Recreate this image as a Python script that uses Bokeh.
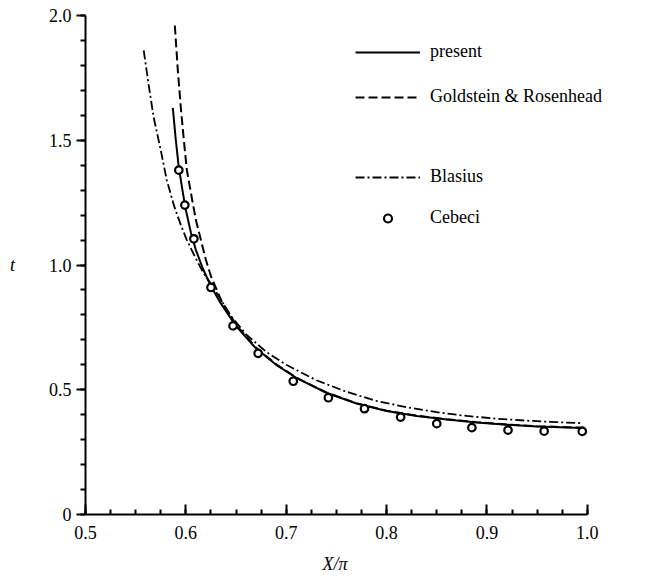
from bokeh.plotting import figure
from bokeh.models import FixedTicker, Legend, LegendItem, Range1d, Title
from bokeh.embed import file_html
from bokeh.resources import INLINE

# ---- data ----
present_x = [0.587, 0.590, 0.593, 0.597, 0.600, 0.605, 0.610, 0.617, 0.625, 0.635,
             0.650, 0.670, 0.690, 0.710, 0.740, 0.770, 0.800, 0.830, 0.860, 0.890,
             0.920, 0.950, 0.980, 0.997]
present_y = [1.63, 1.50, 1.39, 1.29, 1.22, 1.13, 1.06, 0.985, 0.915, 0.845,
             0.755, 0.665, 0.600, 0.548, 0.488, 0.445, 0.415, 0.395, 0.381, 0.369,
             0.360, 0.353, 0.349, 0.347]

gold_x = [0.589, 0.592, 0.595, 0.598, 0.601, 0.605, 0.610, 0.615, 0.620, 0.625,
          0.635, 0.650, 0.670, 0.690, 0.710, 0.740, 0.770, 0.800, 0.830, 0.860,
          0.890, 0.920, 0.950, 0.980, 0.997]
gold_y = [1.96, 1.78, 1.63, 1.50, 1.38, 1.29, 1.18, 1.10, 1.02, 0.955,
          0.860, 0.760, 0.668, 0.602, 0.549, 0.489, 0.446, 0.416, 0.396, 0.382,
          0.370, 0.361, 0.354, 0.350, 0.348]

blas_x = [0.558, 0.563, 0.568, 0.575, 0.581, 0.588, 0.595, 0.601, 0.610, 0.618,
          0.625, 0.632, 0.645, 0.660, 0.680, 0.700, 0.730, 0.760, 0.790, 0.820,
          0.850, 0.880, 0.910, 0.940, 0.970, 0.995]
blas_y = [1.86, 1.72, 1.59, 1.46, 1.34, 1.24, 1.16, 1.10, 1.025, 0.965,
          0.925, 0.880, 0.795, 0.722, 0.652, 0.600, 0.538, 0.492, 0.455, 0.430,
          0.410, 0.395, 0.384, 0.376, 0.370, 0.366]

cebeci_x = [0.593, 0.599, 0.608, 0.625, 0.647, 0.672, 0.707, 0.742, 0.778, 0.814,
            0.850, 0.885, 0.921, 0.957, 0.995]
cebeci_y = [1.38, 1.24, 1.105, 0.910, 0.756, 0.646, 0.534, 0.468, 0.424, 0.390,
            0.364, 0.348, 0.338, 0.334, 0.333]

x_ticks = [0.5, 0.6, 0.7, 0.8, 0.9, 1.0]
x_tick_labels = ["0.5", "0.6", "0.7", "0.8", "0.9", "1.0"]
y_ticks = [0.0, 0.5, 1.0, 1.5, 2.0]
y_tick_labels = ["0", "0.5", "1.0", "1.5", "2.0"]

FONT = "Liberation Serif"
FS = "18px"

# frame extends past x=1.0 (axis line bounded at 1.0) so the legend text fits
p = figure(width=649, height=583, output_backend="svg", toolbar_location=None,
           x_range=Range1d(0.5, 1.053), y_range=Range1d(0.0, 2.0),
           min_border_left=85, min_border_right=9, min_border_top=15,
           min_border_bottom=69)
p.outline_line_color = None
p.xgrid.visible = False
p.ygrid.visible = False
p.background_fill_color = "white"
p.border_fill_color = "white"

# x axis
xa = p.xaxis[0]
xa.bounds = (0.5, 1.0)
xa.ticker = FixedTicker(ticks=x_ticks,
                        minor_ticks=[0.5 + 0.025 * i for i in range(21)])
xa.major_label_overrides = {t: s for t, s in zip(x_ticks, x_tick_labels)}
xa.axis_line_width = 2
xa.major_tick_in = 10
xa.major_tick_out = 0
xa.minor_tick_in = 5
xa.minor_tick_out = 0
xa.major_tick_line_width = 2
xa.minor_tick_line_width = 2
xa.major_label_standoff = 11

# x label centred under the 0.5–1.0 axis line
p.add_layout(Title(text="X/π", align="left", offset=237, standoff=20,
                   text_font=FONT, text_font_size=FS, text_font_style="italic",
                   text_color="black"), "below")

# y axis
ya = p.yaxis[0]
ya.ticker = FixedTicker(ticks=y_ticks,
                        minor_ticks=[0.1 * i for i in range(21)])
ya.major_label_overrides = {t: s for t, s in zip(y_ticks, y_tick_labels)}
ya.axis_label = "t"
ya.axis_label_orientation = "horizontal"
ya.axis_line_width = 2
ya.major_tick_in = 0
ya.major_tick_out = 9
ya.minor_tick_in = 0
ya.minor_tick_out = 5
ya.major_tick_line_width = 2
ya.minor_tick_line_width = 2
ya.major_label_standoff = 5
ya.axis_label_standoff = 31

for ax in (xa, ya):
    ax.axis_line_color = "black"
    ax.major_tick_line_color = "black"
    ax.minor_tick_line_color = "black"
    ax.major_label_text_font = FONT
    ax.major_label_text_font_size = FS
    ax.major_label_text_color = "black"
    ax.axis_label_text_font = FONT
    ax.axis_label_text_font_size = FS
    ax.axis_label_text_font_style = "italic"
    ax.axis_label_text_color = "black"

r_present = p.line(present_x, present_y, line_color="black", line_width=2)
r_gold = p.line(gold_x, gold_y, line_color="black", line_width=2, line_dash="9 4")
r_blas = p.line(blas_x, blas_y, line_color="black", line_width=1.8,
                line_dash="9 3 2 3")
r_ceb = p.scatter(cebeci_x, cebeci_y, marker="circle", size=7.5,
                  fill_color="white", line_color="black", line_width=2.2)

def add_legend(label, renderer, loc):
    lg = Legend(items=[LegendItem(label=label, renderers=[renderer])],
                location=loc, border_line_color=None,
                background_fill_alpha=0, padding=0, margin=0, spacing=0,
                glyph_width=65, glyph_height=20, label_standoff=10,
                label_text_font=FONT, label_text_font_size=FS,
                label_text_color="black", label_height=20)
    p.add_layout(lg, "center")

add_legend("present", r_present, (270, 452))
add_legend("Goldstein & Rosenhead", r_gold, (270, 407))
add_legend("Blasius", r_blas, (270, 327))
add_legend("Cebeci", r_ceb, (270, 286))

open("out.html", "w").write(file_html(p, INLINE))
